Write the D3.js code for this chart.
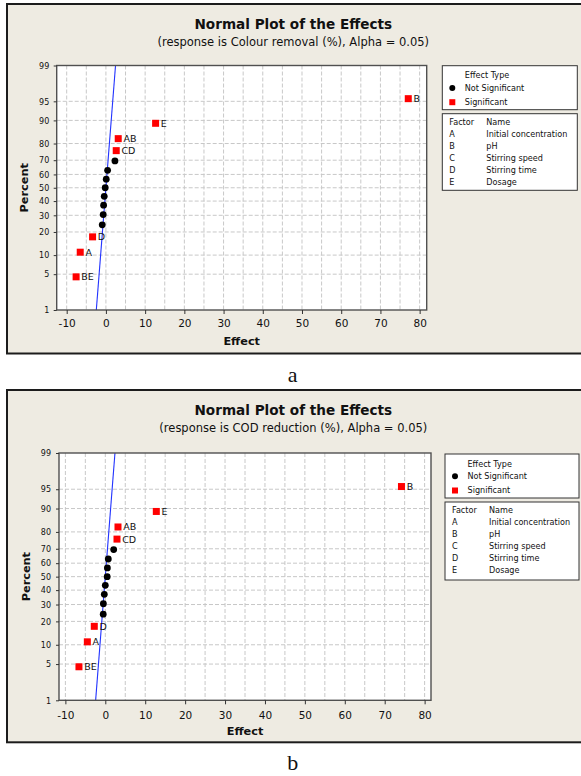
<!DOCTYPE html>
<html>
<head>
<meta charset="utf-8">
<script src="https://cdn.jsdelivr.net/npm/d3@7"></script>
<style>
  html, body { margin: 0; padding: 0; background: #ffffff; }
  svg { display: block; }
  text { font-family: "DejaVu Sans", Verdana, sans-serif; fill: #111; }
</style>
</head>
<body>
<svg id="chart" width="581" height="776"></svg>
<script>
// ---- data ---------------------------------------------------------------
const percentTicks = [1, 5, 10, 20, 30, 40, 50, 60, 70, 80, 90, 95, 99];
const effectTicks = [-10, 0, 10, 20, 30, 40, 50, 60, 70, 80];
const gridEffects = [-10, -5, 0, 5, 10, 15, 20, 25, 30, 35, 40, 45, 50, 55, 60, 65, 70, 75, 80];

// normal-probability plotting positions of the 15 ordered effects (%)
const percentRanks = [4.5, 11.0, 17.5, 24.0, 30.5, 37.0, 43.5, 50.0, 56.5, 63.0, 69.5, 76.0, 82.5, 89.0, 95.5];
// term names of the ordered effects ("" = unlabelled, not significant)
const termLabels = ["BE", "A", "D", "", "", "", "", "", "", "", "", "CD", "AB", "E", "B"];

// ordered effects, colour removal (%)
const colourEffects = [-7.6, -6.55, -3.4, -0.94, -0.69, -0.59, -0.43, -0.18, 0.08, 0.43, 2.3, 2.63, 3.14, 12.67, 77.1];
// ordered effects, COD reduction (%)
const codEffects = [-6.6, -4.5, -2.76, -0.52, -0.48, -0.25, 0.0, 0.47, 0.52, 0.75, 2.1, 2.93, 3.18, 12.78, 74.2];

// reference line end points (effect at 1 % and 99 %)
const linePercents = [1, 99];
const colourLine = [-2.45, 2.45];
const codLine = [-2.42, 2.42];

const factorCodes = ["A", "B", "C", "D", "E"];
const factorNames = ["Initial concentration", "pH", "Stirring speed", "Stirring time", "Dosage"];
const effectTypes = ["Not Significant", "Significant"];

// ---- helpers ------------------------------------------------------------
// inverse standard normal CDF (Acklam's rational approximation)
function probit(p) {
  const a = [-3.969683028665376e+01, 2.209460984245205e+02, -2.759285104469687e+02,
             1.383577518672690e+02, -3.066479806614716e+01, 2.506628277459239e+00];
  const b = [-5.447609879822406e+01, 1.615858368580409e+02, -1.556989798598866e+02,
             6.680131188771972e+01, -1.328068155288572e+01];
  const c = [-7.784894002430293e-03, -3.223964580411365e-01, -2.400758277161838e+00,
             -2.549732539343734e+00, 4.374664141464968e+00, 2.938163982698783e+00];
  const d = [7.784695709041462e-03, 3.224671290700398e-01, 2.445134137142996e+00,
             3.754408661907416e+00];
  const pl = 0.02425;
  let q, r;
  if (p < pl) {
    q = Math.sqrt(-2 * Math.log(p));
    return (((((c[0]*q+c[1])*q+c[2])*q+c[3])*q+c[4])*q+c[5]) / ((((d[0]*q+d[1])*q+d[2])*q+d[3])*q+1);
  } else if (p <= 1 - pl) {
    q = p - 0.5; r = q * q;
    return (((((a[0]*r+a[1])*r+a[2])*r+a[3])*r+a[4])*r+a[5])*q / (((((b[0]*r+b[1])*r+b[2])*r+b[3])*r+b[4])*r+1);
  } else {
    q = Math.sqrt(-2 * Math.log(1 - p));
    return -(((((c[0]*q+c[1])*q+c[2])*q+c[3])*q+c[4])*q+c[5]) / ((((d[0]*q+d[1])*q+d[2])*q+d[3])*q+1);
  }
}

const svg = d3.select("#chart");

function drawPanel(p) {
  const g = svg.append("g");

  // panel frame
  g.append("rect")
    .attr("x", 7).attr("y", p.frameTop)
    .attr("width", 585).attr("height", p.frameBottom - p.frameTop)
    .attr("fill", "#EEEBE2").attr("stroke", "#1c1c1c").attr("stroke-width", 2);

  // titles
  g.append("text").attr("x", 293.3).attr("y", p.frameTop + 25.3)
    .attr("text-anchor", "middle").attr("font-weight", "bold").attr("font-size", 13.6)
    .text("Normal Plot of the Effects");
  g.append("text").attr("x", 293.3).attr("y", p.frameTop + 41.7)
    .attr("text-anchor", "middle").attr("font-size", 11.5)
    .text(p.subtitle);

  const x = d3.scaleLinear().domain(p.xDomain).range([p.left, p.right]);
  const z = d3.scaleLinear().domain([probit(0.01), probit(0.99)]).range([p.bottom, p.top]);
  const y = pct => z(probit(pct / 100));

  // plot area
  g.append("rect").attr("x", p.left).attr("y", p.top)
    .attr("width", p.right - p.left).attr("height", p.bottom - p.top)
    .attr("fill", "#ffffff");

  // dashed grid
  g.append("g").selectAll("line").data(gridEffects).join("line")
    .attr("x1", d => x(d)).attr("x2", d => x(d))
    .attr("y1", p.top).attr("y2", p.bottom)
    .attr("stroke", "#c8c8c8").attr("stroke-width", 1).attr("stroke-dasharray", "4,2");
  g.append("g").selectAll("line").data(percentTicks.slice(1, -1)).join("line")
    .attr("x1", p.left).attr("x2", p.right)
    .attr("y1", d => y(d)).attr("y2", d => y(d))
    .attr("stroke", "#c8c8c8").attr("stroke-width", 1).attr("stroke-dasharray", "4,2");

  // fitted reference line
  const lineData = linePercents.map((pc, i) => ({ e: p.line[i], pc }));
  g.append("path").datum(lineData)
    .attr("d", d3.line().x(d => x(d.e)).y(d => y(d.pc)))
    .attr("fill", "none").attr("stroke", "#2233ff").attr("stroke-width", 1.1);

  const pts = p.effects.map((e, i) => ({ e, pc: percentRanks[i], label: termLabels[i] }));

  // not significant effects
  g.append("g").selectAll("circle").data(pts.filter(d => !d.label)).join("circle")
    .attr("cx", d => x(d.e)).attr("cy", d => y(d.pc)).attr("r", 3.4)
    .attr("fill", "#000");

  // significant effects
  const sig = pts.filter(d => d.label);
  g.append("g").selectAll("rect").data(sig).join("rect")
    .attr("x", d => x(d.e) - 3.5).attr("y", d => y(d.pc) - 3.5)
    .attr("width", 7).attr("height", 7).attr("fill", "#ff0000");
  g.append("g").selectAll("text").data(sig).join("text")
    .attr("x", d => x(d.e) + 5.2).attr("y", d => y(d.pc) + 3.4)
    .attr("font-size", 9.5).attr("fill", "#222")
    .text(d => d.label);

  // plot border
  g.append("rect").attr("x", p.left).attr("y", p.top)
    .attr("width", p.right - p.left).attr("height", p.bottom - p.top)
    .attr("fill", "none").attr("stroke", "#505050").attr("stroke-width", 1.4);

  // axes
  const xAxis = g.append("g").attr("transform", `translate(0,${p.bottom})`)
    .call(d3.axisBottom(x).tickValues(effectTicks).tickSize(4).tickFormat(d => String(d)));
  xAxis.select(".domain").remove();
  xAxis.selectAll("line").attr("stroke", "#333");
  xAxis.selectAll("text").attr("y", p.xLabelOffset).attr("dy", null)
    .attr("font-size", 10.5).attr("font-family", null).attr("fill", "#111");

  const yAxis = g.append("g").attr("transform", `translate(${p.left},0)`)
    .call(d3.axisLeft(z).tickValues(percentTicks.map(v => probit(v / 100)))
      .tickFormat((d, i) => percentTicks[i]).tickSize(3));
  yAxis.select(".domain").remove();
  yAxis.selectAll("line").attr("stroke", "#333");
  yAxis.selectAll("text").attr("x", -p.yLabelOffset).attr("dy", "0.34em")
    .attr("font-size", 8).attr("font-family", null).attr("fill", "#111");

  // axis titles
  g.append("text").attr("x", (p.left + p.right) / 2).attr("y", p.bottom + 35)
    .attr("text-anchor", "middle").attr("font-weight", "bold").attr("font-size", 11.3)
    .text("Effect");
  g.append("text")
    .attr("transform", `translate(${p.percentX},${(p.top + p.bottom) / 2}) rotate(-90)`)
    .attr("text-anchor", "middle").attr("font-weight", "bold").attr("font-size", 11.3)
    .text("Percent");

  // legend: effect type
  const lx = p.legendLeft, lw = p.legendWidth;
  g.append("rect").attr("x", lx).attr("y", p.legendTop).attr("width", lw).attr("height", 44)
    .attr("fill", "#fff").attr("stroke", "#333").attr("stroke-width", 1);
  g.append("text").attr("x", lx + 22.5).attr("y", p.legendTop + 12.7)
    .attr("font-size", 8.1).text("Effect Type");
  g.append("circle").attr("cx", lx + 10).attr("cy", p.legendTop + 22.3).attr("r", 3).attr("fill", "#000");
  g.append("text").attr("x", lx + 22.5).attr("y", p.legendTop + 25.3)
    .attr("font-size", 8.1).text(effectTypes[0]);
  g.append("rect").attr("x", lx + 7).attr("y", p.legendTop + 33.5).attr("width", 6).attr("height", 6)
    .attr("fill", "#ff0000");
  g.append("text").attr("x", lx + 22.5).attr("y", p.legendTop + 39.3)
    .attr("font-size", 8.1).text(effectTypes[1]);

  // legend: factor names
  const fy = p.factorTop;
  g.append("rect").attr("x", lx).attr("y", fy).attr("width", lw).attr("height", p.factorHeight)
    .attr("fill", "#fff").attr("stroke", "#333").attr("stroke-width", 1);
  g.append("text").attr("x", lx + 7).attr("y", fy + 11).attr("font-size", 8.1).text("Factor");
  g.append("text").attr("x", lx + 44).attr("y", fy + 11).attr("font-size", 8.1).text("Name");
  factorCodes.forEach((c, i) => {
    g.append("text").attr("x", lx + 7).attr("y", fy + 23 + i * 12.1).attr("font-size", 8.1).text(c);
    g.append("text").attr("x", lx + 44).attr("y", fy + 23 + i * 12.1).attr("font-size", 8.1).text(factorNames[i]);
  });

  // caption below the panel
  svg.append("text").attr("x", 292.7).attr("y", p.captionY)
    .attr("text-anchor", "middle")
    .style("font-family", "'Liberation Serif', 'Times New Roman', serif")
    .attr("font-size", 22).text(p.caption);
}

drawPanel({
  frameTop: 4, frameBottom: 353.5,
  left: 56.7, right: 426.7, top: 65.5, bottom: 310,
  xDomain: [-12.55, 81.8],
  subtitle: "(response is Colour removal (%), Alpha = 0.05)",
  effects: colourEffects, line: colourLine,
  xLabelOffset: 17.3, yLabelOffset: 7.4, percentX: 27.5,
  legendLeft: 442.3, legendWidth: 135, legendTop: 65.7,
  factorTop: 113.7, factorHeight: 76.6,
  caption: "a", captionY: 381.5
});

drawPanel({
  frameTop: 390, frameBottom: 742.3,
  left: 59, right: 431, top: 453, bottom: 700.3,
  xDomain: [-11.6, 81.6],
  subtitle: "(response is COD reduction (%), Alpha = 0.05)",
  effects: codEffects, line: codLine,
  xLabelOffset: 18.3, yLabelOffset: 8, percentX: 30,
  legendLeft: 445, legendWidth: 134, legendTop: 454,
  factorTop: 502, factorHeight: 78,
  caption: "b", captionY: 770
});
</script>
</body>
</html>
